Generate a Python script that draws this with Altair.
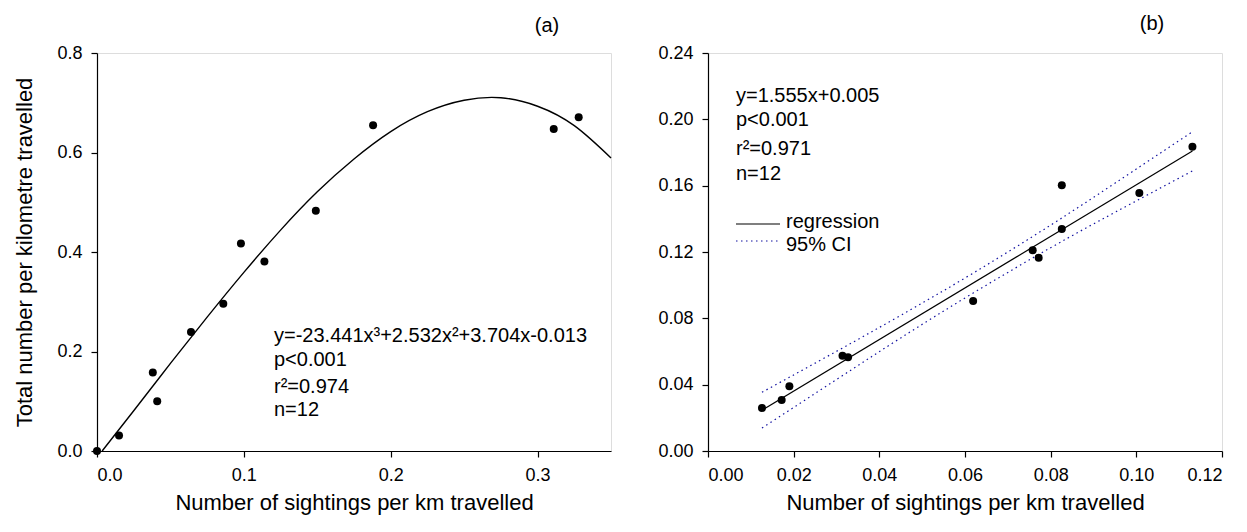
import altair as alt
import pandas as pd

FONT = "Liberation Sans"

# ---------------- Panel (a) data ----------------
a_x = [0.000, 0.015, 0.038, 0.041, 0.064, 0.086, 0.098, 0.114, 0.149, 0.188, 0.311, 0.328]
a_y = [0.000, 0.031, 0.158, 0.100, 0.239, 0.296, 0.417, 0.381, 0.483, 0.655, 0.647, 0.671]
a_fit_x = [0.0035, 0.025, 0.05, 0.075, 0.10, 0.125, 0.15, 0.175, 0.20, 0.225, 0.25, 0.275, 0.30, 0.325, 0.35]
a_fit_y = [0.000, 0.081, 0.176, 0.269, 0.359, 0.444, 0.521, 0.587, 0.642, 0.682, 0.705, 0.710, 0.693, 0.654, 0.589]
a_xticks = [0.0, 0.1, 0.2, 0.3]
a_yticks = [0.0, 0.2, 0.4, 0.6, 0.8]
a_text = ["y=-23.441x³+2.532x²+3.704x-0.013", "p<0.001", "r²=0.974", "n=12"]

# ---------------- Panel (b) data ----------------
b_x = [0.0126, 0.0172, 0.0190, 0.0314, 0.0327, 0.0619, 0.0758, 0.0772, 0.0826, 0.0826, 0.1007, 0.1131]
b_y = [0.0260, 0.0308, 0.0391, 0.0574, 0.0566, 0.0904, 0.1210, 0.1166, 0.1603, 0.1339, 0.1556, 0.1834]
reg_x = [0.0126, 0.1131]
reg_y = [0.0246, 0.1809]
ci_x = [0.0126, 0.030, 0.045, 0.062, 0.080, 0.095, 0.1131]
ci_upper = [0.0354, 0.0601, 0.0818, 0.1074, 0.1362, 0.1615, 0.1925]
ci_lower = [0.0138, 0.0431, 0.0682, 0.0954, 0.1226, 0.1439, 0.1689]
b_xticks = [0.00, 0.02, 0.04, 0.06, 0.08, 0.10, 0.12]
b_yticks = [0.00, 0.04, 0.08, 0.12, 0.16, 0.20, 0.24]
b_text = ["y=1.555x+0.005", "p<0.001", "r²=0.971", "n=12"]
legend_labels = ["regression", "95% CI"]

x_title = "Number of sightings per km travelled"
y_title = "Total number per kilometre travelled"

W, H = 514, 398
BLUE = "#1010a0"

one = alt.Data(values=[{"k": 0}])


def label(text, x, y, size=20, align="left"):
    return alt.Chart(one).mark_text(
        text=text, font=FONT, fontSize=size, align=align, baseline="middle", color="black"
    ).encode(x=alt.value(x), y=alt.value(y))


def axis(ticks, fmt, title, title_pad):
    return alt.Axis(
        values=ticks, format=fmt, title=title, grid=False,
        domainColor="black", domainWidth=1.2, tickColor="black", tickWidth=1.2,
        tickSize=6, labelPadding=9, labelFont=FONT, labelFontSize=18, labelColor="black",
        titleFont=FONT, titleFontSize=22, titleFontWeight="normal", titleColor="black",
        titlePadding=title_pad,
    )


# ---------------- Panel (a) ----------------
df_a = pd.DataFrame({"x": a_x, "y": a_y})
df_afit = pd.DataFrame({"x": a_fit_x, "y": a_fit_y})

xa = alt.X("x:Q", scale=alt.Scale(domain=[0, 0.35], nice=False, zero=False),
           axis=axis(a_xticks, ".1f", x_title, 8))
ya = alt.Y("y:Q", scale=alt.Scale(domain=[0, 0.8], nice=False),
           axis=axis(a_yticks, ".1f", y_title, 20))

a_curve = alt.Chart(df_afit).mark_line(color="black", strokeWidth=1.4, interpolate="natural").encode(x=xa, y=ya)
a_pts = alt.Chart(df_a).mark_circle(color="black", size=64, opacity=1).encode(x=xa, y=ya)

a_layers = [a_curve, a_pts]
for i, t in enumerate(a_text):
    a_layers.append(label(t, 177, [283, 307, 334, 357][i]))
a_layers.append(label("(a)", W - 64, -27, align="center"))
panel_a = alt.layer(*a_layers).properties(width=W, height=H)

# ---------------- Panel (b) ----------------
df_b = pd.DataFrame({"x": b_x, "y": b_y})
df_reg = pd.DataFrame({"x": reg_x, "y": reg_y})
df_ci = pd.concat([
    pd.DataFrame({"x": ci_x, "y": ci_upper, "band": "upper"}),
    pd.DataFrame({"x": ci_x, "y": ci_lower, "band": "lower"}),
])

xb = alt.X("x:Q", scale=alt.Scale(domain=[0, 0.12], nice=False, zero=False),
           axis=axis(b_xticks, ".2f", x_title, 8))
yb = alt.Y("y:Q", scale=alt.Scale(domain=[0, 0.24], nice=False),
           axis=axis(b_yticks, ".2f", None, 10))

b_ci = alt.Chart(df_ci).mark_line(color=BLUE, strokeWidth=1.2, strokeDash=[1.5, 3.5], interpolate="natural").encode(
    x=xb, y=yb, detail="band:N")
b_reg = alt.Chart(df_reg).mark_line(color="black", strokeWidth=1.2).encode(x=xb, y=yb)
b_pts = alt.Chart(df_b).mark_circle(color="black", size=64, opacity=1).encode(x=xb, y=yb)

b_layers = [b_ci, b_reg, b_pts]
for i, t in enumerate(b_text):
    b_layers.append(label(t, 28, [43, 67, 96, 121][i]))
# manual legend
b_layers.append(alt.Chart(one).mark_rule(color="black", strokeWidth=1.2).encode(
    x=alt.value(28), x2=alt.value(72), y=alt.value(171)))
b_layers.append(alt.Chart(one).mark_rule(color=BLUE, strokeWidth=1.2, strokeDash=[1.5, 3.5]).encode(
    x=alt.value(28), x2=alt.value(72), y=alt.value(188)))
b_layers.append(label(legend_labels[0], 78, 169))
b_layers.append(label(legend_labels[1], 78, 192))
b_layers.append(label("(b)", W - 70, -29, align="center"))
panel_b = alt.layer(*b_layers).properties(width=W, height=H)

chart = alt.hconcat(panel_a, panel_b, spacing=42).configure_view(
    stroke="#808080", strokeWidth=1.5
).configure(background="white", padding=5)

chart.save("out.html", embed_options={"renderer": "svg", "actions": False})
